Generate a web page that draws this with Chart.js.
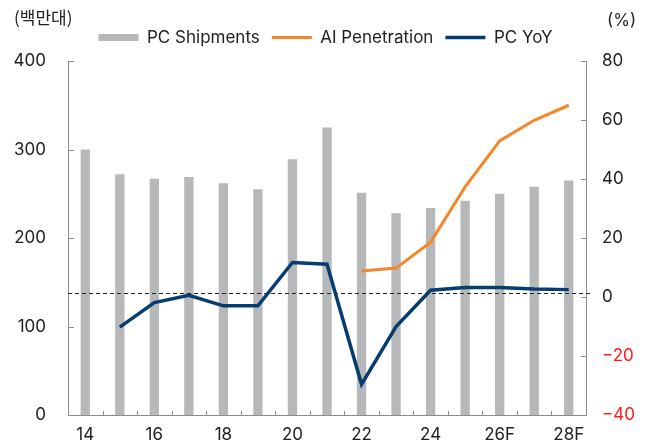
<!DOCTYPE html>
<html>
<head>
<meta charset="utf-8">
<script src="https://cdn.jsdelivr.net/npm/chart.js@4.4.1/dist/chart.umd.min.js"></script>
<style>
    html, body { margin: 0; padding: 0; background: #ffffff; }
    #wrap { width: 651px; height: 443px; position: relative; }
</style>
</head>
<body>
<div id="wrap"><canvas id="pcChart"></canvas></div>
<script>
const years = ["14", "15", "16", "17", "18", "19", "20", "21", "22", "23", "24", "25", "26F", "27F", "28F"];
const shownYears = ["14", "16", "18", "20", "22", "24", "26F", "28F"];
const shipments = [300, 272, 267, 269, 262, 255, 289, 325, 251, 228, 234, 242, 250, 258, 265];
const aiPenetration = [null, null, null, null, null, null, null, null, 8.8, 9.8, 18.6, 37.3, 52.9, 59.9, 65];
const pcYoY = [null, -10.2, -1.9, 0.6, -3.0, -3.0, 11.7, 11.1, -29.6, -10.0, 2.3, 3.2, 3.2, 2.7, 2.5];
const yoyBaseline = 1.3;

const FONT = "Inter, 'Liberation Sans', 'Noto Sans CJK KR', sans-serif";
const AXIS_GRAY = "#8c8c8c";

// a bit more room under the legend
const legendGap = {
    id: "legendGap",
    beforeInit: function (chart) {
        const fit = chart.legend.fit;
        chart.legend.fit = function () {
            fit.call(this);
            this.height += 5;
        };
    }
};

// inward tick marks, dashed zero line and unit labels
const decorPlugin = {
    id: "decor",
    afterDatasetDraw: function (chart, args) {
        if (args.index !== 0) return;
        const ctx = chart.ctx;
        const area = chart.chartArea;
        const y = chart.scales.y1.getPixelForValue(yoyBaseline);
        ctx.save();
        ctx.strokeStyle = "#222";
        ctx.lineWidth = 1;
        ctx.setLineDash([4, 3]);
        ctx.beginPath();
        ctx.moveTo(area.left, Math.round(y) + 0.5);
        ctx.lineTo(area.right + 6, Math.round(y) + 0.5);
        ctx.stroke();
        ctx.restore();
    },
    afterDraw: function (chart) {
        const ctx = chart.ctx;
        const area = chart.chartArea;
        const x = chart.scales.x;
        const y = chart.scales.y;
        const y1 = chart.scales.y1;
        ctx.save();
        ctx.strokeStyle = AXIS_GRAY;
        ctx.lineWidth = 1;
        ctx.beginPath();
        y.ticks.forEach(function (t) {
            const py = Math.round(y.getPixelForValue(t.value)) + 0.5;
            ctx.moveTo(area.left, py);
            ctx.lineTo(area.left + 6, py);
        });
        y1.ticks.forEach(function (t) {
            const py = Math.round(y1.getPixelForValue(t.value)) + 0.5;
            ctx.moveTo(area.right, py);
            ctx.lineTo(area.right - 5, py);
        });
        const half = (x.getPixelForValue(1) - x.getPixelForValue(0)) / 2;
        for (let i = 0; i < years.length - 1; i++) {
            const px = Math.round(x.getPixelForValue(i) + half) + 0.5;
            ctx.moveTo(px, area.bottom);
            ctx.lineTo(px, area.bottom - 4);
        }
        ctx.stroke();

        ctx.fillStyle = "#222";
        ctx.font = "17px 'Noto Sans CJK KR', " + FONT;
        ctx.textBaseline = "middle";
        ctx.textAlign = "left";
        ctx.fillText("(백만대)", 14, 18);
        ctx.font = "17px " + FONT;
        ctx.fillText("(%)", 607, 21);
        ctx.restore();
    }
};

function fixPad(scale) {
    scale.paddingTop = 10;
    scale.paddingBottom = 10;
}

const ctx = document.getElementById("pcChart").getContext("2d");

new Chart(ctx, {
    type: "bar",
    data: {
        labels: years,
        datasets: [{
            type: "bar",
            label: "PC Shipments",
            data: shipments,
            yAxisID: "y",
            backgroundColor: "#b7b8ba",
            barPercentage: 0.27,
            categoryPercentage: 1,
            pointStyle: "rect",
            borderWidth: 0,
            order: 3
        }, {
            type: "line",
            label: "AI Penetration",
            data: aiPenetration,
            yAxisID: "y1",
            borderColor: "#f5862a",
            backgroundColor: "#f5862a",
            borderWidth: 3,
            pointRadius: 0,
            pointStyle: "line",
            tension: 0,
            order: 1
        }, {
            type: "line",
            label: "PC YoY",
            data: pcYoY,
            yAxisID: "y1",
            borderColor: "#073c70",
            backgroundColor: "#073c70",
            borderWidth: 3.5,
            pointRadius: 0,
            pointStyle: "line",
            tension: 0,
            order: 2
        }]
    },
    plugins: [legendGap, decorPlugin],
    options: {
        responsive: true,
        maintainAspectRatio: false,
        animation: false,
        layout: {
            padding: { top: 17, right: 0, bottom: 0, left: 0 }
        },
        plugins: {
            legend: {
                display: true,
                position: "top",
                labels: {
                    usePointStyle: true,
                    pointStyleWidth: 40,
                    boxHeight: 7,
                    padding: 12,
                    color: "#222",
                    font: { family: FONT, size: 17 },
                    sort: function (a, b) { return a.datasetIndex - b.datasetIndex; }
                }
            },
            tooltip: { enabled: false }
        },
        scales: {
            x: {
                type: "category",
                offset: true,
                grid: { display: false, drawTicks: false },
                border: { display: true, color: AXIS_GRAY, width: 1 },
                ticks: {
                    autoSkip: false,
                    maxRotation: 0,
                    padding: 10,
                    color: "#222",
                    font: { family: FONT, size: 17 },
                    callback: function (value, index) {
                        const lab = years[index];
                        return shownYears.indexOf(lab) >= 0 ? lab : "";
                    }
                },
                afterFit: function (scale) { scale.height = 28; }
            },
            y: {
                position: "left",
                min: 0,
                max: 400,
                grid: { display: false, drawTicks: false },
                border: { display: true, color: AXIS_GRAY, width: 1 },
                ticks: {
                    stepSize: 100,
                    padding: 22,
                    color: "#222",
                    font: { family: FONT, size: 17 }
                },
                afterFit: function (scale) { scale.width = 68; fixPad(scale); }
            },
            y1: {
                position: "right",
                min: -40,
                max: 80,
                grid: { display: false, drawTicks: false },
                border: { display: true, color: AXIS_GRAY, width: 1 },
                ticks: {
                    stepSize: 20,
                    padding: 16,
                    font: { family: FONT, size: 17 },
                    color: function (c) {
                        return c.tick && c.tick.value < 0 ? "#ff1a1a" : "#222";
                    },
                    callback: function (value) {
                        return value < 0 ? "\u2212" + Math.abs(value) : String(value);
                    }
                },
                afterFit: function (scale) { scale.width = 65; fixPad(scale); }
            }
        }
    }
});
</script>
</body>
</html>
